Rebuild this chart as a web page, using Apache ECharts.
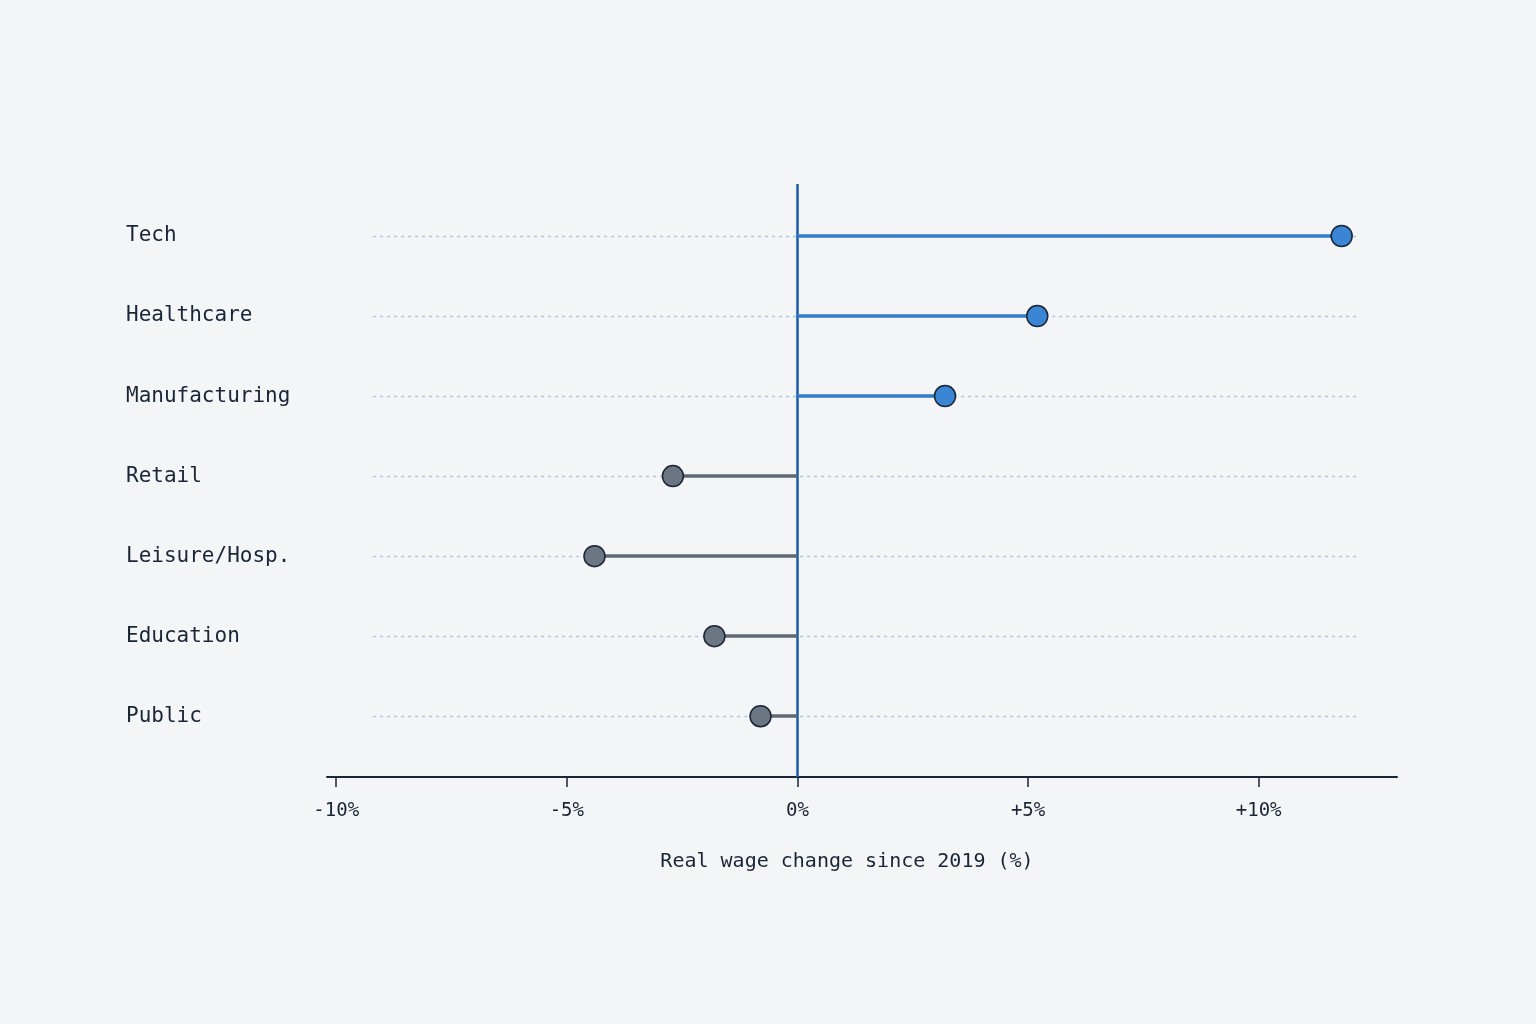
<!DOCTYPE html>
<html>
<head>
<meta charset="utf-8">
<script src="https://cdn.jsdelivr.net/npm/echarts@6/dist/echarts.min.js"></script>
<style>
  html, body { margin: 0; padding: 0; background: #f3f5f7; }
  #chart { width: 1536px; height: 1024px; }
</style>
</head>
<body>
<div id="chart"></div>
<script>
// sectors, top to bottom
const sectors = ['Tech', 'Healthcare', 'Manufacturing', 'Retail', 'Leisure/Hosp.', 'Education', 'Public'];
// real wage change since 2019, %
const wageChange = [11.8, 5.2, 3.2, -2.7, -4.4, -1.8, -0.8];
const tickValues = [-10, -5, 0, 5, 10];
const tickLabels = ['-10%', '-5%', '0%', '+5%', '+10%'];
const guideFrom = -9.2;
const guideTo = 12.2;

const blue = '#2f7dcb';
const grey = '#5f6873';
const ink = '#1a2535';
const mono = '"DejaVu Sans Mono", "Liberation Mono", monospace';

const chart = echarts.init(document.getElementById('chart'));

const rows = sectors.map(function(name, i) { return i; });

chart.setOption({
  backgroundColor: '#f3f5f7',
  animation: false,
  grid: { left: 327, right: 139, top: 184, bottom: 247 },
  xAxis: {
    type: 'value',
    min: -10.2,
    max: 13.0,
    splitLine: { show: false },
    axisLine: { show: true, onZero: false, lineStyle: { color: ink, width: 2 } },
    axisTick: { show: true, customValues: tickValues, length: 10, lineStyle: { color: ink, width: 1.5 } },
    axisLabel: {
      customValues: tickValues,
      margin: 25,
      fontFamily: mono,
      fontSize: 19,
      color: ink,
      formatter: function(v) {
        return tickLabels[tickValues.indexOf(v)];
      }
    },
    name: 'Real wage change since 2019 (%)',
    nameLocation: 'middle',
    nameGap: 75,
    nameTextStyle: { fontFamily: mono, fontSize: 20, color: ink, padding: [0, 30, 0, 0] }
  },
  yAxis: {
    type: 'value',
    inverse: true,
    min: -0.65,
    max: 6.76,
    splitLine: { show: false },
    axisLine: { show: false },
    axisTick: { show: false },
    axisLabel: {
      customValues: rows,
      align: 'left',
      margin: 201,
      fontFamily: mono,
      fontSize: 21,
      lineHeight: 30,
      padding: [6, 0, 0, 0],
      color: ink,
      formatter: function(v) {
        return sectors[v];
      }
    }
  },
  series: [
    {
      // dotted row guides
      type: 'line',
      data: [],
      silent: true,
      z: 1,
      markLine: {
        symbol: 'none',
        silent: true,
        z: 1,
        label: { show: false },
        lineStyle: { color: '#a9cbe8', width: 1.3, type: [3, 4] },
        data: rows.map(function(i) {
          return [{ coord: [guideFrom, i] }, { coord: [guideTo, i] }];
        })
      }
    },
    {
      // stems
      type: 'lines',
      coordinateSystem: 'cartesian2d',
      silent: true,
      z: 5,
      lineStyle: { width: 3.5, opacity: 1, type: 'solid' },
      data: wageChange.map(function(v, i) {
        return {
          coords: [[0, i], [v, i]],
          lineStyle: { color: v >= 0 ? blue : grey }
        };
      })
    },
    {
      // zero line
      type: 'line',
      data: [],
      silent: true,
      z: 6,
      markLine: {
        symbol: 'none',
        silent: true,
        label: { show: false },
        lineStyle: { color: '#1f5aa6', width: 2.5, type: 'solid' },
        data: [[{ coord: [0, -0.65] }, { coord: [0, 6.76] }]]
      }
    },
    {
      type: 'scatter',
      z: 7,
      symbolSize: 21,
      data: wageChange.map(function(v, i) {
        return {
          value: [v, i],
          itemStyle: {
            color: v >= 0 ? '#3a86d4' : '#6c7683',
            borderColor: ink,
            borderWidth: 1.5,
            opacity: 1
          }
        };
      })
    }
  ]
});
</script>
</body>
</html>
